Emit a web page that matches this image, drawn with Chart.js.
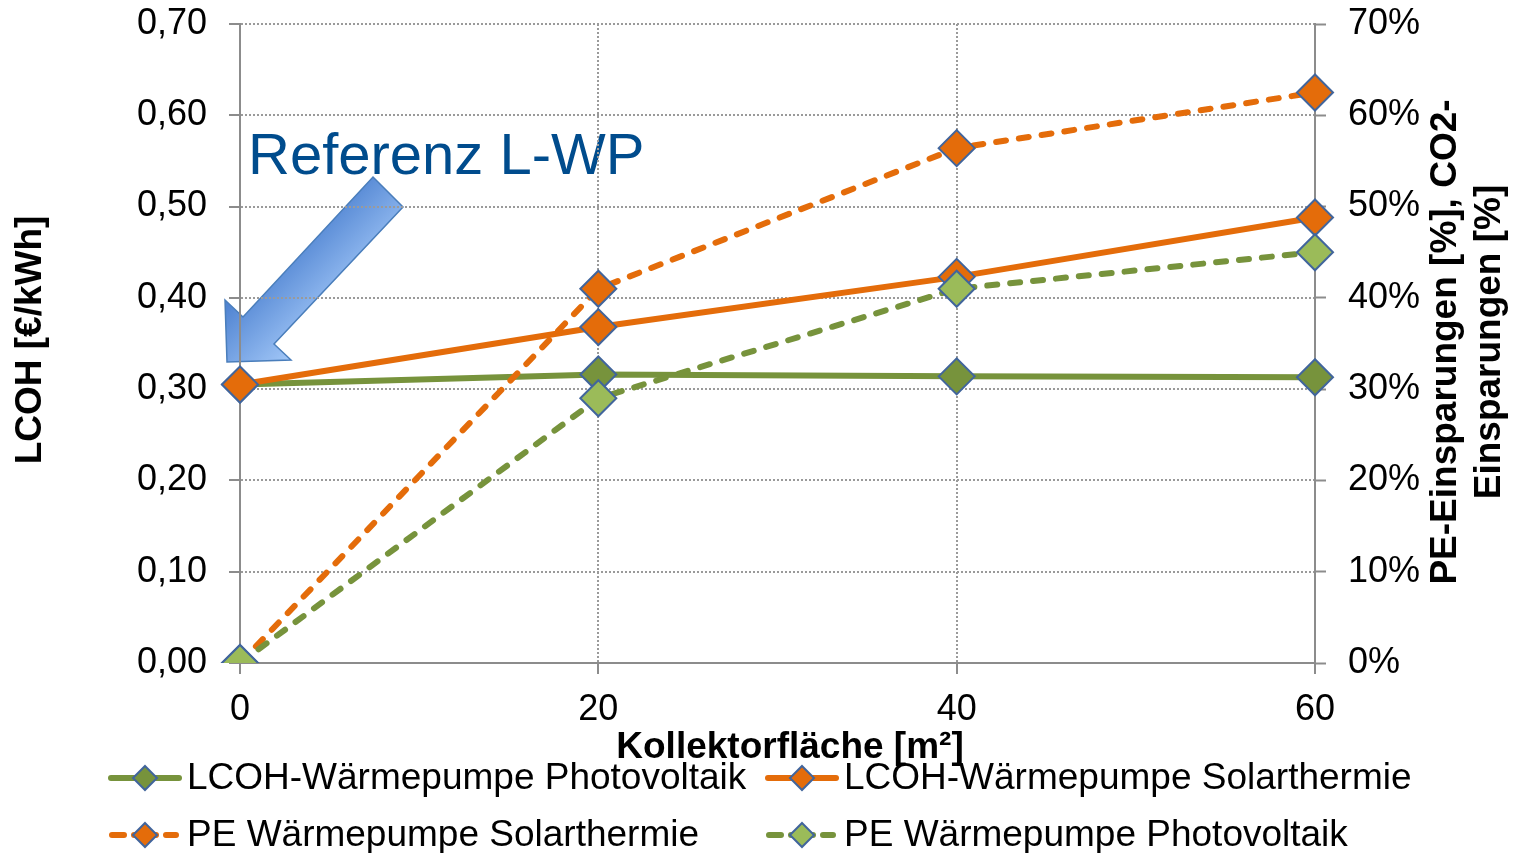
<!DOCTYPE html>
<html>
<head>
<meta charset="utf-8">
<title>LCOH und PE-Einsparungen</title>
<script src="https://cdn.jsdelivr.net/npm/chart.js@4"></script>
<style>
  html, body { margin: 0; padding: 0; background: #fff; }
  #wrap { width: 1523px; height: 853px; }
</style>
</head>
<body>
<div id="wrap"><canvas id="chart" width="1523" height="853"></canvas></div>
<script>
// Kollektorfläche [m²]
const kollektorflaeche = ['0', '20', '40', '60'];

// LCOH [€/kWh] (linke Achse)
const lcohPhotovoltaik = [0.305, 0.316, 0.314, 0.313];
const lcohSolarthermie = [0.305, 0.368, 0.423, 0.488];

// PE-Einsparungen [%] (rechte Achse)
const peSolarthermie = [0, 41.0, 56.4, 62.5];
const pePhotovoltaik = [0, 29.0, 41.0, 45.0];

const orange = '#E46C0A';
const darkGreen = '#77933C';
const lightGreen = '#9BBB59';
const markerBorder = '#41659C';
const gridGrey = '#9a9a9a';
const axisGrey = '#8c8c8c';
const FONT = "'Liberation Sans', Arial, sans-serif";

function series(label, data, color, fill, axis, dashed, order) {
    return {
        label: label,
        data: data,
        yAxisID: axis,
        borderColor: color,
        borderWidth: 6,
        borderDash: dashed ? [10, 13] : [],
        borderCapStyle: dashed ? 'round' : 'butt',
        pointStyle: 'rectRot',
        pointRadius: 18,
        pointHoverRadius: 18,
        pointBackgroundColor: fill,
        pointBorderColor: markerBorder,
        pointBorderWidth: 2,
        tension: 0,
        fill: false,
        order: order,
    };
}

// no extra room for half tick labels, the plot box is fixed
function noScalePadding(s) {
    s.paddingTop = 0;
    s.paddingBottom = 0;
    s.paddingLeft = 0;
    s.paddingRight = 0;
}

// arrow + "Referenz L-WP" sit under the grid
const annotationPlugin = {
    id: 'referenz',
    beforeDraw(chart) {
        const ctx = chart.ctx;
        const a = chart.chartArea;
        const x0 = a.left, y0 = a.top;
        ctx.save();
        ctx.font = '58px ' + FONT;
        ctx.fillStyle = '#004C8D';
        ctx.textBaseline = 'alphabetic';
        ctx.fillText('Referenz L-WP', x0 + 8, y0 + 150);

        // block arrow pointing to the reference point
        const pts = [
            [x0 + 133, y0 + 153],  // tail top
            [x0 + 163, y0 + 183],  // tail bottom
            [x0 + 34, y0 + 320],   // shaft inner bottom
            [x0 + 51, y0 + 336],   // barb bottom
            [x0 - 13, y0 + 338],   // tip
            [x0 - 15, y0 + 276],   // barb top
            [x0 + 3, y0 + 293],    // shaft inner top
        ];
        const g = ctx.createLinearGradient(x0 + 60, y0 + 200, x0 + 120, y0 + 260);
        g.addColorStop(0, '#4A7FCF');
        g.addColorStop(1, '#9DC3F5');
        ctx.beginPath();
        ctx.moveTo(pts[0][0], pts[0][1]);
        for (let i = 1; i < pts.length; i++) ctx.lineTo(pts[i][0], pts[i][1]);
        ctx.closePath();
        ctx.fillStyle = g;
        ctx.fill();
        ctx.lineWidth = 1.5;
        ctx.strokeStyle = '#4A7EBB';
        ctx.stroke();
        ctx.restore();
    }
};

// titles and the two-row legend with line + diamond samples
const titlesLegendPlugin = {
    id: 'titlesLegend',
    afterDraw(chart) {
        const ctx = chart.ctx;
        ctx.save();
        ctx.fillStyle = '#000';
        ctx.textAlign = 'center';
        ctx.textBaseline = 'middle';
        ctx.font = 'bold 37px ' + FONT;

        ctx.fillText('Kollektorfläche [m²]', 790, 748);

        ctx.save();
        ctx.translate(31, 340);
        ctx.rotate(-Math.PI / 2);
        ctx.fillText('LCOH [€/kWh]', 0, 0);
        ctx.restore();

        ctx.save();
        ctx.translate(1446, 342);
        ctx.rotate(-Math.PI / 2);
        ctx.fillText('PE-Einsparungen [%], CO2-', 0, 0);
        ctx.fillText('Einsparungen [%]', 0, 44);
        ctx.restore();

        // legend
        const ds = chart.data.datasets;
        const rows = [
            [ds[0], ds[1]],
            [ds[2], ds[3]],
        ];
        const colX = [110, 767];
        const rowY = [778, 835];
        ctx.font = '37px ' + FONT;
        ctx.textAlign = 'left';
        rows.forEach((row, r) => {
            row.forEach((d, c) => {
                const x = colX[c], y = rowY[r];
                const cx = x + 35;
                ctx.save();
                ctx.strokeStyle = d.borderColor;
                ctx.lineWidth = 6;
                ctx.lineCap = 'round';
                ctx.beginPath();
                if (d.borderDash.length) {
                    ctx.moveTo(x + 2, y); ctx.lineTo(x + 14, y);
                    ctx.moveTo(x + 24, y); ctx.lineTo(x + 46, y);
                    ctx.moveTo(x + 56, y); ctx.lineTo(x + 66, y);
                } else {
                    ctx.moveTo(x + 1, y);
                    ctx.lineTo(x + 69, y);
                }
                ctx.stroke();
                ctx.beginPath();
                ctx.moveTo(cx, y - 12);
                ctx.lineTo(cx + 12, y);
                ctx.lineTo(cx, y + 12);
                ctx.lineTo(cx - 12, y);
                ctx.closePath();
                ctx.fillStyle = d.pointBackgroundColor;
                ctx.fill();
                ctx.lineWidth = 2;
                ctx.strokeStyle = markerBorder;
                ctx.stroke();
                ctx.restore();
                ctx.fillText(d.label, x + 77, y + 1);
            });
        });
        ctx.restore();
    }
};

const gridStyle = {
    color: gridGrey,
    lineWidth: 2,
    tickLength: 11,
    tickColor: axisGrey,
    tickBorderDash: [],
    tickWidth: 2,
};

new Chart(document.getElementById('chart'), {
    type: 'line',
    data: {
        labels: kollektorflaeche,
        datasets: [
            series('LCOH-Wärmepumpe Photovoltaik', lcohPhotovoltaik, darkGreen, darkGreen, 'y', false, 3),
            series('LCOH-Wärmepumpe Solarthermie', lcohSolarthermie, orange, orange, 'y', false, 2),
            series('PE Wärmepumpe Solarthermie', peSolarthermie, orange, orange, 'y2', true, 1),
            series('PE Wärmepumpe Photovoltaik', pePhotovoltaik, darkGreen, lightGreen, 'y2', true, 0),
        ],
    },
    options: {
        responsive: false,
        animation: false,
        events: [],
        layout: { padding: { top: 24, left: 0, right: 0, bottom: 0 } },
        plugins: {
            legend: { display: false },
            tooltip: { enabled: false },
        },
        scales: {
            x: {
                offset: false,
                afterFit: (s) => { s.height = 190; noScalePadding(s); },
                grid: gridStyle,
                border: { color: axisGrey, width: 2, dash: [2, 2] },
                ticks: {
                    color: '#000',
                    font: { family: FONT, size: 36 },
                    padding: 14,
                    maxRotation: 0,
                },
            },
            y: {
                position: 'left',
                min: 0,
                max: 0.7,
                afterFit: (s) => { s.width = 240; noScalePadding(s); },
                afterBuildTicks: (s) => {
                    s.ticks = [0, 0.1, 0.2, 0.3, 0.4, 0.5, 0.6, 0.7].map(v => ({ value: v }));
                },
                grid: gridStyle,
                border: { color: axisGrey, width: 2, dash: [2, 2] },
                ticks: {
                    color: '#000',
                    font: { family: FONT, size: 36 },
                    padding: 22,
                    callback: (v) => v.toFixed(2).replace('.', ','),
                },
            },
            y2: {
                position: 'right',
                min: 0,
                max: 70,
                afterFit: (s) => { s.width = 208; noScalePadding(s); },
                afterBuildTicks: (s) => {
                    s.ticks = [0, 10, 20, 30, 40, 50, 60, 70].map(v => ({ value: v }));
                },
                grid: {
                    drawOnChartArea: false,
                    tickLength: 11,
                    tickColor: axisGrey,
                    tickWidth: 2,
                },
                border: { color: axisGrey, width: 2 },
                ticks: {
                    color: '#000',
                    font: { family: FONT, size: 36 },
                    padding: 22,
                    callback: (v) => v + '%',
                },
            },
        },
    },
    plugins: [annotationPlugin, titlesLegendPlugin],
});
</script>
</body>
</html>
